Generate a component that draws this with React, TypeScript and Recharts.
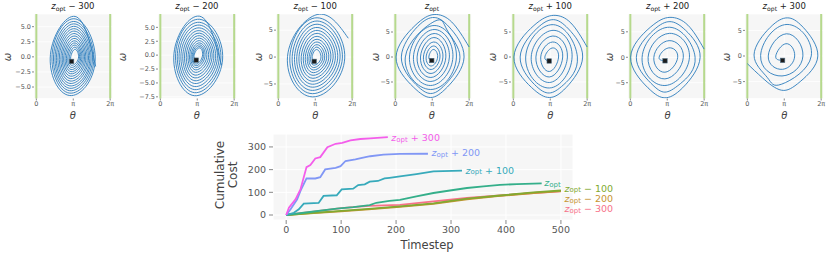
import React from "react";
import {
  CartesianGrid,
  ComposedChart,
  LabelList,
  Line,
  LineChart,
  ReferenceLine,
  Scatter,
  XAxis,
  YAxis,
} from "recharts";

const FONT = "'DejaVu Sans', sans-serif";
const TAU = 2 * Math.PI;
const SPIRAL = "#2a7cbc";
const GREEN = "#b6d98d";

type Pt = [number, number];

// phase portraits: extreme points of every swing [theta, omega], in the order they are visited
const pathM300: Pt[] = [
  [5.05, -1.6],
  [3.3, 6.7], [1.2, 0.4], [2.8, -6.4], [5.0, -0.8],
  [3.3, 6.3], [1.34, 0.4], [2.8, -6.0], [4.88, -0.8],
  [3.3, 5.85], [1.47, 0.35], [2.82, -5.6], [4.77, -0.7],
  [3.3, 5.45], [1.6, 0.35], [2.82, -5.2], [4.65, -0.7],
  [3.3, 5.05], [1.72, 0.3], [2.84, -4.8], [4.54, -0.7],
  [3.3, 4.65], [1.85, 0.3], [2.85, -4.4], [4.43, -0.6],
  [3.3, 4.25], [1.97, 0.3], [2.86, -4.0], [4.32, -0.6],
  [3.3, 3.85], [2.1, 0.25], [2.88, -3.6], [4.2, -0.55],
  [3.3, 3.45], [2.22, 0.25], [2.9, -3.2], [4.09, -0.5],
  [3.3, 3.05], [2.34, 0.2], [2.92, -2.8], [3.98, -0.45],
  [3.3, 2.65], [2.46, 0.2], [2.94, -2.45], [3.87, -0.4],
  [3.3, 2.3], [2.58, 0.15], [2.96, -2.1], [3.77, -0.35],
  [3.3, 1.95], [2.7, 0.15], [2.98, -1.75], [3.67, -0.3],
  [3.3, 1.6], [2.82, 0.1], [3.0, -1.4], [3.58, -0.25],
  [3.3, 1.25], [2.93, 0.05], [3.0, -0.75],
];

const pathM200: Pt[] = [
  [5.2, -1.8],
  [3.35, 7.0], [1.16, 0.3], [2.9, -7.3], [5.3, -0.7],
  [3.35, 6.45], [1.3, 0.3], [2.9, -6.75], [5.15, -0.7],
  [3.35, 5.9], [1.45, 0.3], [2.9, -6.2], [5.0, -0.7],
  [3.35, 5.4], [1.6, 0.25], [2.92, -5.65], [4.85, -0.6],
  [3.35, 4.9], [1.76, 0.25], [2.92, -5.1], [4.7, -0.6],
  [3.35, 4.4], [1.92, 0.2], [2.94, -4.6], [4.55, -0.55],
  [3.35, 3.95], [2.07, 0.2], [2.94, -4.1], [4.4, -0.5],
  [3.35, 3.5], [2.22, 0.2], [2.96, -3.6], [4.25, -0.45],
  [3.35, 3.05], [2.37, 0.15], [2.98, -3.1], [4.1, -0.4],
  [3.35, 2.6], [2.5, 0.15], [3.0, -2.65], [3.95, -0.35],
  [3.35, 2.2], [2.62, 0.1], [3.0, -2.25], [3.8, -0.3],
  [3.35, 1.85], [2.72, 0.1], [3.02, -1.9], [3.68, -0.25],
  [3.35, 1.55], [2.8, 0.05], [3.02, -1.6], [3.58, -0.2],
  [3.33, 1.3], [2.87, 0.0], [3.05, -0.9],
];

const pathM100: Pt[] = [
  [5.95, 3.5],
  [3.3, 7.9], [0.78, 0.1], [2.9, -7.4], [5.65, -0.2],
  [3.3, 7.3], [0.98, 0.1], [2.9, -6.8], [5.45, -0.2],
  [3.3, 6.7], [1.18, 0.1], [2.9, -6.2], [5.25, -0.2],
  [3.3, 6.1], [1.38, 0.1], [2.92, -5.6], [5.05, -0.2],
  [3.3, 5.5], [1.57, 0.1], [2.92, -5.05], [4.85, -0.2],
  [3.3, 4.95], [1.76, 0.1], [2.94, -4.5], [4.66, -0.2],
  [3.3, 4.4], [1.95, 0.1], [2.94, -3.95], [4.47, -0.2],
  [3.3, 3.85], [2.13, 0.1], [2.96, -3.4], [4.29, -0.2],
  [3.3, 3.3], [2.3, 0.1], [2.98, -2.9], [4.11, -0.2],
  [3.3, 2.8], [2.47, 0.1], [3.0, -2.4], [3.94, -0.2],
  [3.3, 2.3], [2.62, 0.1], [3.0, -1.95], [3.78, -0.2],
  [3.28, 1.85], [2.76, 0.1], [3.02, -1.5], [3.62, -0.2],
  [3.26, 1.4], [2.88, 0.1], [3.05, -0.8],
];

const pathOpt: Pt[] = [
  [6.28, 2.0], [4.8, 7.0],
  [3.3, 8.5], [1.68, 6.3], [0.06, 0], [1.53, -6.0], [3.0, -8.1], [4.43, -6.0], [5.85, 0], [4.58, 6.0],
  [3.3, 7.9], [1.9, 6.1], [0.51, 0], [1.75, -5.5], [3.0, -7.3], [4.25, -5.5], [5.5, 0], [4.4, 5.4],
  [3.3, 7.1], [0.85, 0], [3.0, -6.5], [5.2, 0],
  [3.3, 6.3], [1.2, 0], [3.0, -5.7], [4.9, 0],
  [3.3, 5.5], [1.54, 0], [3.02, -4.9], [4.6, 0],
  [3.3, 4.7], [1.85, 0], [3.02, -4.1], [4.3, 0],
  [3.28, 3.9], [2.14, 0], [3.04, -3.3], [4.05, 0],
  [3.26, 3.0], [2.39, 0], [3.05, -2.5], [3.8, 0],
  [3.24, 2.2], [2.62, 0], [3.06, -1.8], [3.6, 0],
  [3.22, 1.5], [2.85, 0], [3.1, -0.7],
];

const pathP100: Pt[] = [
  [6.28, 2.0], [4.9, 6.8],
  [3.44, 8.33], [1.75, 6.3], [0.05, 0], [1.55, -6.1], [3.06, -8.1], [4.5, -6.1], [5.9, 0], [4.7, 5.6],
  [3.42, 7.47], [2.0, 5.7], [0.58, 0], [1.8, -5.5], [3.06, -7.2], [4.3, -5.5], [5.45, 0],
  [3.4, 6.47], [1.05, 0], [3.06, -6.2], [5.0, 0],
  [3.38, 5.33], [1.52, 0], [3.06, -5.1], [4.6, 0],
  [3.36, 4.2], [1.92, 0], [3.06, -4.0], [4.2, 0],
  [3.34, 3.0], [2.33, 0], [3.06, -2.9], [3.85, 0],
  [3.3, 1.8], [2.68, 0], [3.05, -0.8],
];

const pathP200: Pt[] = [
  [6.28, 1.6], [4.9, 6.3],
  [3.37, 7.84], [1.7, 5.9], [0.02, 0], [1.5, -6.0], [2.94, -7.96], [4.45, -6.0], [5.94, 0], [4.7, 5.3],
  [3.37, 7.0], [1.95, 5.3], [0.51, 0], [1.75, -5.1], [2.94, -6.85], [4.25, -5.2], [5.51, 0],
  [3.35, 5.9], [1.0, 0], [2.94, -5.55], [5.03, 0],
  [3.33, 4.7], [1.51, 0], [2.94, -4.25], [4.51, 0],
  [3.3, 3.27], [2.0, 0], [2.94, -2.94], [4.03, 0],
  [3.25, 1.84], [2.45, 0], [2.95, -0.7],
];

const pathP300: Pt[] = [
  [0, -1.5], [1.3, -4.3],
  [2.9, -6.68], [4.5, -5.0], [6.0, 0], [4.75, 5.6], [3.4, 7.45], [1.95, 5.6], [0.57, 0.2], [1.7, -4.2],
  [2.92, -5.5], [5.44, 0], [3.38, 6.16], [1.13, 0.1],
  [2.95, -3.9], [4.73, 0], [3.33, 4.34], [1.78, 0],
  [3.0, -2.6], [4.03, 0], [3.28, 2.4], [2.42, 0],
  [3.0, -0.85],
];

const panelOffsets = ["\u2212 300", "\u2212 200", "\u2212 100", "", "+ 100", "+ 200", "+ 300"];
const panelPaths = [pathM300, pathM200, pathM100, pathOpt, pathP100, pathP200, pathP300];
const panelYDomains: Pt[] = [
  [-6.9, 7.1], [-7.8, 7.4], [-7.7, 8.0], [-8.3, 8.6], [-8.3, 8.6], [-8.1, 8.5], [-8.3, 8.2],
];
const ticksHalf = [-5, -2.5, 0, 2.5, 5];
const ticksHalfLow = [-7.5, -5, -2.5, 0, 2.5, 5];
const ticksFive = [-5, 0, 5];
const panelYTicks = [ticksHalf, ticksHalfLow, ticksFive, ticksFive, ticksFive, ticksFive, ticksFive];
const thetaTicks = [0, Math.PI, TAU];

// cumulative cost, [timestep, cost]
const costM300: Pt[] = [[0, 0], [50, 15], [100, 30], [150, 40], [207, 45], [268, 60], [329, 75], [389, 86], [450, 97], [500, 104]];
const costM200: Pt[] = [[0, 0], [50, 8], [100, 16], [150, 25], [207, 36], [268, 49], [329, 69], [389, 84], [450, 97], [500, 105]];
const costM100: Pt[] = [[0, 0], [50, 9], [100, 18], [150, 27], [207, 38], [268, 51], [329, 72], [389, 86], [450, 100], [500, 108]];
const costOpt: Pt[] = [[0, 0], [32, 10], [92, 28], [122, 35], [152, 44], [164, 54], [188, 62], [207, 67], [237, 82], [268, 97], [298, 108], [329, 119], [359, 126], [389, 133], [420, 136], [465, 139]];
const costP100: Pt[] = [[0, 0], [14, 10], [23, 25], [32, 50], [59, 53], [68, 84], [92, 87], [101, 113], [122, 116], [131, 132], [143, 135], [152, 147], [167, 150], [179, 161], [188, 164], [207, 170], [237, 180], [268, 192], [320, 196]];
const costP200: Pt[] = [[0, 0], [8, 25], [20, 69], [26, 106], [37, 161], [53, 161], [62, 167], [71, 201], [90, 208], [99, 215], [108, 238], [126, 245], [138, 252], [153, 259], [177, 266], [207, 269], [258, 270]];
const costP300: Pt[] = [[0, 0], [5, 32], [17, 69], [26, 113], [37, 211], [44, 220], [53, 249], [62, 255], [75, 299], [90, 314], [102, 318], [117, 329], [135, 335], [153, 338], [185, 343]];

const costSeries = [
  { data: costM300, color: "#f77189", suffix: "\u2212 300", dx: 3.5, dy: 17 },
  { data: costM200, color: "#c69432", suffix: "\u2212 200", dx: 3.5, dy: 7 },
  { data: costM100, color: "#82a931", suffix: "\u2212 100", dx: 3.5, dy: -3 },
  { data: costOpt, color: "#34af8a", suffix: "", dx: 2.5, dy: -1 },
  { data: costP100, color: "#37aabb", suffix: "+ 100", dx: 3.5, dy: -1 },
  { data: costP200, color: "#8197f5", suffix: "+ 200", dx: 3.5, dy: -1.5 },
  { data: costP300, color: "#f45deb", suffix: "+ 300", dx: 3.5, dy: 0 },
];

// top row layout
const thetaZeroPx = [36, 160, 278.3, 395, 513.3, 630.7, 747.3];
const omegaLabelDx = [-28.7, -37.7, -20.5, -20.5, -21.5, -21.5, -21.5];
const PX = 11.75; // px per radian
const PAD = 0.2;
const PLOT_W = (TAU + 2 * PAD) * PX;
const PLOT_TOP = 13.5;
const PLOT_H = 84.5;
const YW = 26;
const XH = 14;
const RM = 8;

const fmtTheta = (v: number) => (v === 0 ? "0" : v < 4 ? "\u03c0" : "2\u03c0");
const minus = (s: string) => s.replace("-", "\u2212");

function ZLabel({ suffix, size }: { suffix: string; size: number }) {
  return (
    <span>
      <i>z</i>
      <span style={{ fontSize: size * 0.72, position: "relative", top: size * 0.25 }}>opt</span>
      {suffix ? " " + suffix : ""}
    </span>
  );
}

function PhasePanel({ i }: { i: number }) {
  const x0 = thetaZeroPx[i];
  const plotLeft = x0 - PAD * PX;
  const decimals = i < 2 ? 1 : 0;
  const path = panelPaths[i].map(([t, w]) => ({ t, w }));
  const goal = [path[path.length - 1]];
  const cx = x0 + Math.PI * PX;
  return (
    <>
      <div
        style={{
          position: "absolute",
          left: cx,
          top: 1,
          transform: "translateX(-50%)",
          fontSize: 8.5,
          lineHeight: "11px",
          color: "#222",
          whiteSpace: "nowrap",
        }}
      >
        <ZLabel suffix={panelOffsets[i]} size={8.5} />
      </div>
      <div style={{ position: "absolute", left: plotLeft - YW, top: PLOT_TOP }}>
        <ComposedChart
          width={YW + PLOT_W + RM}
          height={PLOT_H + XH}
          margin={{ top: 0, right: RM, bottom: 0, left: 0 }}
        >
          <CartesianGrid fill="#f6f6f6" stroke="#ffffff" strokeWidth={0.8} />
          <XAxis
            type="number"
            dataKey="t"
            domain={[-PAD, TAU + PAD]}
            ticks={thetaTicks}
            tickFormatter={fmtTheta}
            allowDataOverflow
            axisLine={false}
            tickSize={2}
            tickMargin={1}
            height={XH}
            interval={0}
            tick={{ fontSize: 6.5, fill: "#555" }}
            tickLine={{ stroke: "#888" }}
          />
          <YAxis
            type="number"
            dataKey="w"
            domain={panelYDomains[i]}
            ticks={panelYTicks[i]}
            tickFormatter={(v: number) => minus(v.toFixed(decimals))}
            allowDataOverflow
            axisLine={false}
            tickSize={2}
            tickMargin={1}
            width={YW}
            interval={0}
            tick={{ fontSize: 6.5, fill: "#555" }}
            tickLine={{ stroke: "#888" }}
          />
          <ReferenceLine x={0} stroke={GREEN} strokeWidth={2} />
          <ReferenceLine x={TAU} stroke={GREEN} strokeWidth={2} />
          <Line
            data={path}
            dataKey="w"
            type="natural"
            stroke={SPIRAL}
            strokeWidth={0.9}
            dot={false}
            isAnimationActive={false}
          />
          <Scatter
            data={goal}
            dataKey="w"
            isAnimationActive={false}
            shape={(p: any) => (
              <rect x={p.cx - 2.2} y={p.cy - 2.2} width={4.4} height={4.4} fill="#1b1b1b" stroke="#4a6a80" strokeWidth={0.6} />
            )}
          />
        </ComposedChart>
      </div>
      <div
        style={{
          position: "absolute",
          left: x0 + omegaLabelDx[i],
          top: 57,
          transform: "translate(-50%, -50%) rotate(-90deg)",
          fontSize: 10,
          fontStyle: "italic",
          color: "#444",
        }}
      >
        {"\u03c9"}
      </div>
      <div
        style={{
          position: "absolute",
          left: cx,
          top: 115,
          transform: "translate(-50%, -50%)",
          fontSize: 10,
          fontStyle: "italic",
          color: "#444",
        }}
      >
        {"\u03b8"}
      </div>
    </>
  );
}

const endLabel = (s: (typeof costSeries)[number]) => (props: any) => {
  const { x, y, index } = props;
  if (index !== s.data.length - 1) return null;
  return (
    <text x={x + s.dx} y={y + s.dy} fill={s.color} fontSize={9.5} dominantBaseline="central">
      <tspan fontStyle="italic">z</tspan>
      <tspan fontSize={7} dy={2.5}>opt</tspan>
      {s.suffix ? <tspan dy={-2.5}>{" " + s.suffix}</tspan> : null}
    </text>
  );
};

const C_LEFT = 273;
const C_TOP = 134;
const C_W = 300;
const C_H = 86;
const C_YW = 30;
const C_XH = 20;
const C_TM = 12;

function CostChart() {
  return (
    <>
      <div style={{ position: "absolute", left: C_LEFT - C_YW, top: C_TOP - C_TM }}>
        <LineChart
          width={C_YW + C_W + 100}
          height={C_TM + C_H + C_XH}
          margin={{ top: C_TM, right: 100, bottom: 0, left: 0 }}
        >
          <CartesianGrid fill="#f6f6f6" stroke="#ffffff" strokeWidth={1} />
          <XAxis
            type="number"
            dataKey="t"
            domain={[-24, 522]}
            ticks={[0, 100, 200, 300, 400, 500]}
            allowDataOverflow
            axisLine={false}
            tickSize={4}
            tickMargin={2}
            height={C_XH}
            interval={0}
            tick={{ fontSize: 9.5, fill: "#555" }}
            tickLine={{ stroke: "#888" }}
          />
          <YAxis
            type="number"
            domain={[-22, 357]}
            ticks={[0, 100, 200, 300]}
            allowDataOverflow
            axisLine={false}
            tickSize={4}
            tickMargin={3}
            width={C_YW}
            interval={0}
            tick={{ fontSize: 9.5, fill: "#555" }}
            tickLine={{ stroke: "#888" }}
          />
          {costSeries.map((s, k) => (
            <Line
              key={k}
              data={s.data.map(([t, v]) => ({ t, v }))}
              dataKey="v"
              type="linear"
              stroke={s.color}
              strokeWidth={1.8}
              dot={false}
              isAnimationActive={false}
            >
              <LabelList dataKey="v" content={endLabel(s)} />
            </Line>
          ))}
        </LineChart>
      </div>
      <div
        style={{
          position: "absolute",
          left: 226.5,
          top: 175,
          width: 90,
          transform: "translate(-50%, -50%) rotate(-90deg)",
          fontSize: 12,
          lineHeight: "13px",
          textAlign: "center",
          color: "#444",
        }}
      >
        Cumulative
        <br />
        Cost
      </div>
      <div
        style={{
          position: "absolute",
          left: 427,
          top: 245,
          transform: "translate(-50%, -50%)",
          fontSize: 11.5,
          color: "#444",
        }}
      >
        Timestep
      </div>
    </>
  );
}

export default function App() {
  return (
    <div
      style={{
        position: "absolute",
        left: 0,
        top: 0,
        width: 830,
        height: 260,
        background: "#fff",
        fontFamily: FONT,
        overflow: "hidden",
      }}
    >
      {panelPaths.map((_, i) => (
        <PhasePanel key={i} i={i} />
      ))}
      <CostChart />
    </div>
  );
}
